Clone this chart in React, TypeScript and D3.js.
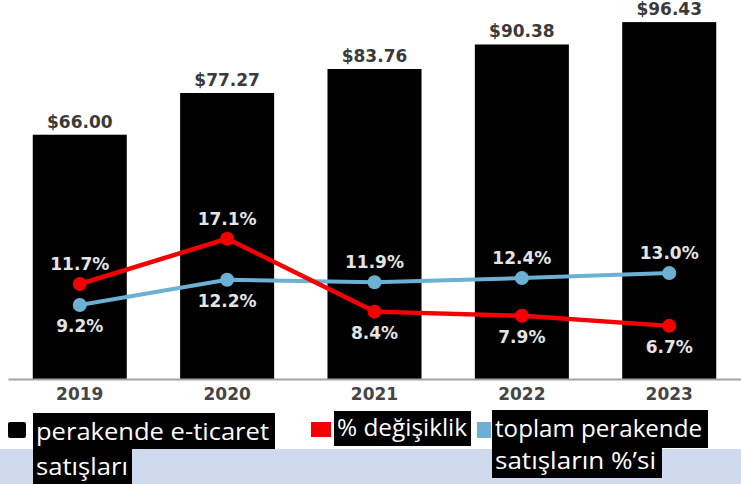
import { useEffect, useRef } from 'react';
import * as d3 from 'd3';

const YEARS = ['2019', '2020', '2021', '2022', '2023'];
const SALES = [66.0, 77.27, 83.76, 90.38, 96.43];
const PCT_CHANGE = [11.7, 17.1, 8.4, 7.9, 6.7];
const PCT_OF_TOTAL = [9.2, 12.2, 11.9, 12.4, 13.0];

const W = 741, H = 484;
const BASE = 379;
const RED = '#f40000';
const BLUE = '#6cb0d4';
const CHART_FONT = '"DejaVu Sans", sans-serif';
const LEGEND_FONT = '"Open Sans", sans-serif';

export default function App() {
  const axisRef = useRef<SVGGElement>(null);

  const x = d3.scaleBand<string>().domain(YEARS).range([8, W]).paddingInner(0.362).paddingOuter(0.168);
  const yBar = d3.scaleLinear().domain([0, 102.4]).range([BASE, 0]);
  const yPct = d3.scaleLinear().domain([0, 45.6]).range([382, 0]);
  const cx = (i: number) => (x(YEARS[i]) ?? 0) + x.bandwidth() / 2;

  const line = d3.line<number>()
    .x((_, i) => cx(i))
    .y(d => yPct(d));

  useEffect(() => {
    if (!axisRef.current) return;
    const g = d3.select(axisRef.current);
    g.selectAll('*').remove();
    g.call(d3.axisBottom(x).tickSize(0).tickPadding(9))
      .call(ax => ax.select('.domain').attr('stroke', '#a3a3a3').attr('stroke-width', 2))
      .call(ax => ax.selectAll('text')
        .attr('fill', '#454545')
        .style('font-family', CHART_FONT)
        .style('font-size', '17px')
        .style('font-weight', 'bold'));
  }, []);

  const fit = { lengthAdjust: 'spacingAndGlyphs' as const };

  return (
    <div style={{ position: 'absolute', left: 0, top: 0 }}>
      <svg width={W} height={H} viewBox={`0 0 ${W} ${H}`} style={{ display: 'block', background: '#fff' }}>
        {/* bottom band */}
        <rect x={0} y={449} width={W} height={H - 449} fill="#cfdaf0" />

        {/* bars */}
        {SALES.map((v, i) => (
          <g key={YEARS[i]}>
            <rect x={x(YEARS[i])} y={yBar(v)} width={x.bandwidth()} height={BASE - yBar(v)} fill="#000" />
            <text x={cx(i)} y={yBar(v) - 7} textAnchor="middle" fill="#3a3a3a"
              style={{ fontFamily: CHART_FONT, fontSize: 17, fontWeight: 'bold' }}>
              ${v.toFixed(2)}
            </text>
          </g>
        ))}

        <g ref={axisRef} transform={`translate(0,${BASE})`} />

        {/* lines */}
        <path d={line(PCT_OF_TOTAL) ?? ''} fill="none" stroke={BLUE} strokeWidth={4} />
        <path d={line(PCT_CHANGE) ?? ''} fill="none" stroke={RED} strokeWidth={4.5} />
        {PCT_OF_TOTAL.map((v, i) => (
          <circle key={'b' + i} cx={cx(i)} cy={yPct(v)} r={7} fill={BLUE} />
        ))}
        {PCT_CHANGE.map((v, i) => (
          <circle key={'r' + i} cx={cx(i)} cy={yPct(v)} r={7} fill={RED} />
        ))}

        {/* value labels */}
        {YEARS.map((yr, i) => {
          const redAbove = PCT_CHANGE[i] > PCT_OF_TOTAL[i];
          const items = [
            { v: PCT_CHANGE[i], above: redAbove },
            { v: PCT_OF_TOTAL[i], above: !redAbove },
          ];
          return items.map((it, k) => (
            <text key={yr + k} x={cx(i)} y={yPct(it.v) + (it.above ? -20 : 21)}
              textAnchor="middle" dominantBaseline="central" fill="#e4e4e4"
              style={{ fontFamily: CHART_FONT, fontSize: 17, fontWeight: 'bold' }}>
              {it.v.toFixed(1)}%
            </text>
          ));
        })}

        {/* legend */}
        <g style={{ fontFamily: LEGEND_FONT, fontSize: 24 }}>
          <rect x={8} y={422} width={18} height={16} fill="#000" rx={2} />
          <rect x={33} y={413} width={242} height={36} fill="#000" />
          <rect x={33} y={448} width={99} height={36} fill="#000" />
          <text x={36} y={440} fill="#fff" textLength={233} {...fit}>perakende e-ticaret</text>
          <text x={36} y={475} fill="#fff" textLength={92} {...fit}>satışları</text>

          <rect x={311} y={422} width={20} height={15} fill={RED} />
          <rect x={334} y={411} width={137} height={35} fill="#000" />
          <text x={337} y={436} fill="#fff" textLength={130} {...fit}>% değişiklik</text>

          <rect x={477} y={422} width={14} height={16} fill={BLUE} />
          <rect x={492} y={410} width={216} height={38} fill="#000" />
          <rect x={492} y={447} width={170} height={31} fill="#000" />
          <text x={495} y={437} fill="#fff" textLength={207} {...fit}>toplam perakende</text>
          <text x={495} y={469} fill="#fff" textLength={161} {...fit}>satışların %’si</text>
        </g>
      </svg>
    </div>
  );
}
